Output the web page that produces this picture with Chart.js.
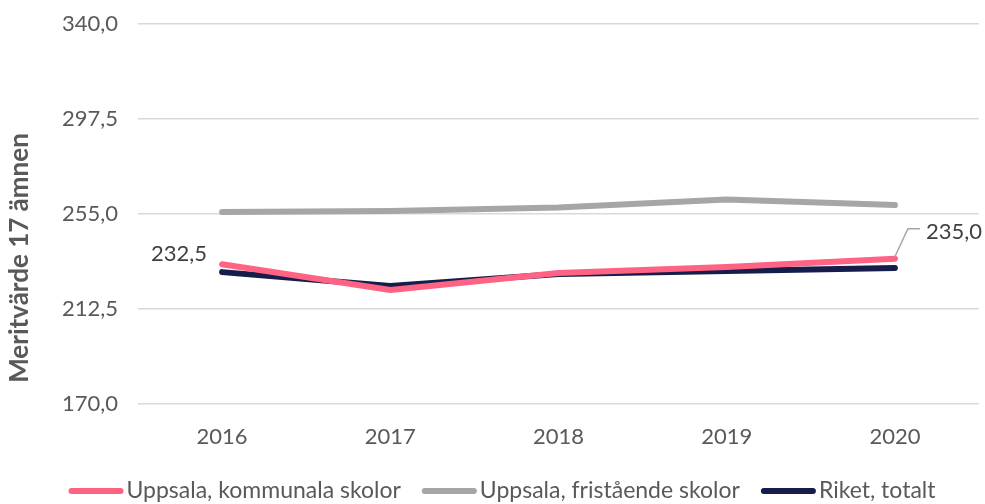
<!DOCTYPE html>
<html><head><meta charset="utf-8">
<script src="https://cdn.jsdelivr.net/npm/chart.js@4"></script>
<style>html,body{margin:0;padding:0;background:#fff}#wrap{width:985px;height:504px}</style>
</head><body><div id="wrap"><canvas id="c"></canvas></div>
<script>
const years = ['2016','2017','2018','2019','2020'];
const kommunala = [232.5, 221.0, 228.6, 231.3, 235.0];
const fristaende = [255.9, 256.3, 257.9, 261.5, 259.0];
const riket = [229.0, 222.8, 228.2, 229.5, 230.8];
const seriesNames = ['Uppsala, kommunala skolor', 'Uppsala, fristående skolor', 'Riket, totalt'];
const yTicks = [170, 212.5, 255, 297.5, 340];
const axisTitle = 'Meritvärde 17 ämnen';

const FONT = 'Lato';
const fmt = v => v.toFixed(1).replace('.', ',');

const labelPlugin = {
  id: 'dlabels',
  afterDatasetsDraw(chart) {
    const ctx = chart.ctx;
    const meta = chart.getDatasetMeta(0);
    ctx.save();
    ctx.font = '22px ' + FONT;
    ctx.fillStyle = '#404040';
    ctx.textBaseline = 'middle';
    const p0 = meta.data[0];
    ctx.textAlign = 'right';
    ctx.fillText(fmt(kommunala[0]), p0.x - 15, p0.y - 10);
    const pl = meta.data[kommunala.length - 1];
    ctx.strokeStyle = '#a6a6a6';
    ctx.lineWidth = 1.5;
    ctx.beginPath();
    ctx.moveTo(pl.x, pl.y - 2);
    ctx.lineTo(pl.x + 13, pl.y - 30);
    ctx.lineTo(pl.x + 25, pl.y - 30);
    ctx.stroke();
    ctx.textAlign = 'left';
    ctx.fillText(fmt(kommunala[kommunala.length - 1]), pl.x + 31, pl.y - 27);
    ctx.restore();
  }
};

const titleLegendPlugin = {
  id: 'customLegend',
  afterDraw(chart) {
    const ctx = chart.ctx;
    ctx.save();
    ctx.save();
    ctx.translate(20, 258);
    ctx.rotate(-Math.PI / 2);
    ctx.font = 'bold 26px ' + FONT;
    ctx.fillStyle = '#595959';
    ctx.textAlign = 'center';
    ctx.textBaseline = 'middle';
    ctx.fillText(axisTitle, 0, 0);
    ctx.restore();
    ctx.font = '23px ' + FONT;
    ctx.textBaseline = 'middle';
    ctx.textAlign = 'left';
    const lineW = 55, gap = 3, itemGap = 21;
    const items = chart.data.datasets.map(d => ({ text: d.label, color: d.borderColor, w: ctx.measureText(d.label).width }));
    const total = items.reduce((a, it) => a + lineW + gap + it.w, 0) + itemGap * (items.length - 1);
    let x = 502 - total / 2;
    const y = 491;
    items.forEach(it => {
      ctx.strokeStyle = it.color;
      ctx.lineWidth = 6;
      ctx.lineCap = 'round';
      ctx.beginPath();
      ctx.moveTo(x + 3, y);
      ctx.lineTo(x + lineW - 3, y);
      ctx.stroke();
      ctx.fillStyle = '#595959';
      ctx.fillText(it.text, x + lineW + gap, y);
      x += lineW + gap + it.w + itemGap;
    });
    ctx.restore();
  }
};

const mk = (label, data, color) => ({
  label, data, borderColor: color, backgroundColor: color,
  borderWidth: 6, pointRadius: 0, pointHoverRadius: 0, tension: 0,
  borderCapStyle: 'round', borderJoinStyle: 'round', fill: false
});

new Chart(document.getElementById('c'), {
  type: 'line',
  data: {
    labels: years,
    datasets: [
      mk(seriesNames[0], kommunala, '#ff6384'),
      mk(seriesNames[1], fristaende, '#a6a6a6'),
      mk(seriesNames[2], riket, '#161d4a')
    ]
  },
  options: {
    responsive: true, maintainAspectRatio: false, animation: false,
    layout: { padding: { top: 24, right: 6, left: 0, bottom: 40 } },
    plugins: { tooltip: { enabled: false }, legend: { display: false } },
    scales: {
      x: {
        offset: true,
        afterFit(s) { s.height = 60; s.paddingLeft = 0; s.paddingRight = 0; },
        grid: { display: false, drawTicks: false, tickLength: 0 },
        border: { display: false },
        ticks: { color: '#595959', font: { family: FONT, size: 22 }, padding: 20 }
      },
      y: {
        min: 170, max: 340,
        afterBuildTicks(s) { s.ticks = yTicks.map(v => ({ value: v })); },
        afterFit(s) { s.width = 138; s.paddingTop = 0; s.paddingBottom = 0; },
        grid: { color: '#d9d9d9', lineWidth: 1.5, drawTicks: false, tickLength: 0 },
        border: { display: false },
        ticks: { color: '#595959', font: { family: FONT, size: 22 }, padding: 20,
          callback: v => fmt(v) }
      }
    }
  },
  plugins: [labelPlugin, titleLegendPlugin]
});
</script>
</body></html>
